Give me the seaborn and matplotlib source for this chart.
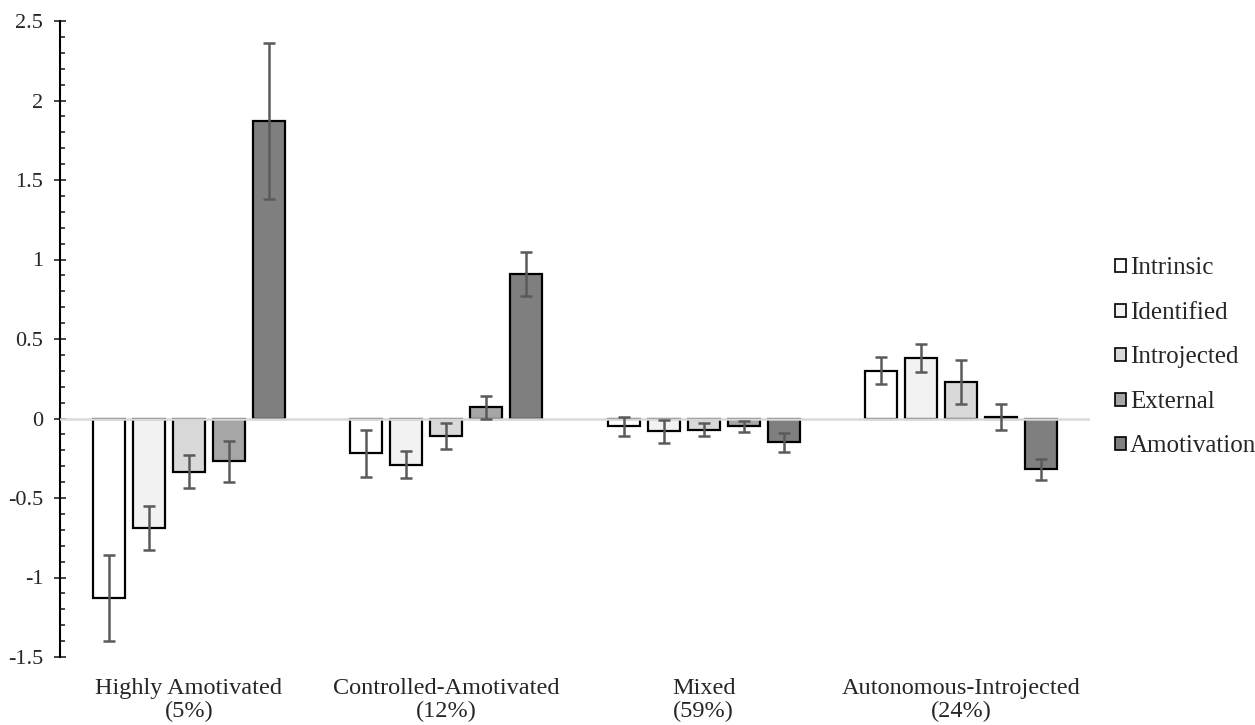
import pandas as pd
import numpy as np
import matplotlib
matplotlib.use("Agg")
import matplotlib.pyplot as plt
import matplotlib.ticker as mticker
from matplotlib.patches import Patch
import seaborn as sns

# --- dati ---
profiles = ["Highly Amotivated\n(5%)", "Controlled-Amotivated\n(12%)",
            "Mixed\n(59%)", "Autonomous-Introjected\n(24%)"]
motivations = ["Intrinsic", "Identified", "Introjected", "External", "Amotivation"]

intrinsic = [-1.13, -0.22, -0.05, 0.30]
identified = [-0.69, -0.29, -0.08, 0.38]
introjected = [-0.335, -0.11, -0.07, 0.23]
external = [-0.27, 0.07, -0.05, 0.01]
amotivation = [1.87, 0.91, -0.15, -0.32]

intrinsic_err = [0.27, 0.148, 0.057, 0.085]
identified_err = [0.14, 0.083, 0.073, 0.09]
introjected_err = [0.105, 0.083, 0.039, 0.14]
external_err = [0.13, 0.072, 0.034, 0.08]
amotivation_err = [0.49, 0.14, 0.06, 0.067]

colors = ["#ffffff", "#f2f2f2", "#d9d9d9", "#a6a6a6", "#7f7f7f"]

means = [intrinsic, identified, introjected, external, amotivation]
errs = [intrinsic_err, identified_err, introjected_err, external_err, amotivation_err]

rows = []
for m, vals, ee in zip(motivations, means, errs):
    for p, v, e in zip(profiles, vals, ee):
        rows.append({"profile": p, "motivation": m, "value": v, "err": e})
df = pd.DataFrame(rows)

# --- stile ---
sns.set_style("ticks")
plt.rcParams["font.family"] = ["Liberation Serif", "DejaVu Serif"]
plt.rcParams["axes.unicode_minus"] = False

fig = plt.figure(figsize=(12.55, 7.25), dpi=100)
ax = fig.add_axes([60 / 1255, 1 - 657 / 725, (1090 - 60) / 1255, (657 - 21) / 725])

sns.barplot(data=df, x="profile", y="value", hue="motivation",
            order=profiles, hue_order=motivations,
            palette=dict(zip(motivations, colors)),
            edgecolor="black", linewidth=1.6, width=0.775, gap=0.2,
            errorbar=None, legend=False, ax=ax, zorder=2)

# barre di errore sui centri delle barre
for cont, m in zip(ax.containers, motivations):
    sub = df[df["motivation"] == m].set_index("profile").loc[profiles]
    xs = [b.get_x() + b.get_width() / 2 for b in cont]
    ax.errorbar(xs, sub["value"], yerr=sub["err"], fmt="none",
                ecolor="#5a5a5a", elinewidth=1.8, capsize=4.5, capthick=1.8, zorder=4)

ax.axhline(0, color="#d9d9d9", lw=1.8, zorder=3)

ax.set_xlim(-0.5, 3.5)
ax.set_ylim(-1.5, 2.5)
ax.yaxis.set_major_locator(mticker.MultipleLocator(0.5))
ax.yaxis.set_minor_locator(mticker.MultipleLocator(0.1))
ax.yaxis.set_major_formatter(mticker.FuncFormatter(lambda v, p: f"{v:g}"))
ax.tick_params(axis="y", which="major", direction="inout", length=8, width=1.2,
               labelsize=16, pad=8)
ax.tick_params(axis="y", which="minor", direction="in", length=3.5, width=1.2)
ax.tick_params(axis="x", length=0, labelsize=17.5, pad=15)
for lab in ax.get_xticklabels():
    lab.set_linespacing(1.1)

for s in ["top", "right", "bottom"]:
    ax.spines[s].set_visible(False)
ax.spines["left"].set_linewidth(1.5)
ax.spines["left"].set_color("black")
ax.set_xlabel("")
ax.set_ylabel("")

handles = [Patch(facecolor=c, edgecolor="black", linewidth=1.2) for c in colors]
fig.legend(handles, motivations, loc="center left",
           bbox_to_anchor=(1115 / 1255, 1 - 357.5 / 725), frameon=False,
           fontsize=18, handlelength=0.42, handleheight=0.42, handletextpad=0.18,
           labelspacing=0.9, borderpad=0, borderaxespad=0)

fig.savefig("out.png", dpi=100)
